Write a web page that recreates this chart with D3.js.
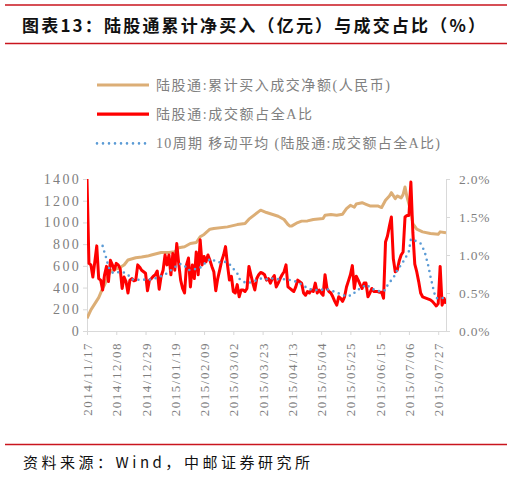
<!DOCTYPE html>
<html>
<head>
<meta charset="utf-8">
<script src="https://cdn.jsdelivr.net/npm/d3@7"></script>
<style>
  body { margin: 0; background: #fff; }
</style>
</head>
<body>
<div id="chart"></div>
<script>
// x axis is a trading-day (weekday) axis starting 2014/11/17
var startDate = "2014/11/17";

var tickLabels = ["2014/11/17", "2014/12/08", "2014/12/29", "2015/01/19", "2015/02/09",
  "2015/03/02", "2015/03/23", "2015/04/13", "2015/05/04", "2015/05/25",
  "2015/06/15", "2015/07/06", "2015/07/27"];

var legendLabels = ["陆股通:累计买入成交净额(人民币)", "陆股通:成交额占全A比",
  "10周期 移动平均 (陆股通:成交额占全A比)"];

// cumulative net buy (亿元), left axis
var buyDates = ["2014/11/17", "2014/11/19", "2014/11/25", "2014/11/27", "2014/11/28", "2014/12/02",
  "2014/12/03", "2014/12/04", "2014/12/09", "2014/12/12", "2014/12/16", "2014/12/22", "2014/12/25",
  "2014/12/30", "2015/01/01", "2015/01/08", "2015/01/14", "2015/01/19", "2015/01/21", "2015/01/26",
  "2015/01/29", "2015/02/03", "2015/02/05", "2015/02/09", "2015/02/12", "2015/02/16", "2015/02/25",
  "2015/03/04", "2015/03/10", "2015/03/12", "2015/03/17", "2015/03/20", "2015/03/25", "2015/03/27",
  "2015/04/02", "2015/04/07", "2015/04/09", "2015/04/10", "2015/04/13", "2015/04/16", "2015/04/20",
  "2015/04/23", "2015/04/28", "2015/05/05", "2015/05/06", "2015/05/11", "2015/05/14", "2015/05/19",
  "2015/05/21", "2015/05/25", "2015/05/27", "2015/05/28", "2015/06/02", "2015/06/04", "2015/06/08",
  "2015/06/12", "2015/06/16", "2015/06/18", "2015/06/22", "2015/06/23", "2015/06/25", "2015/06/26",
  "2015/06/30", "2015/07/01", "2015/07/02", "2015/07/03", "2015/07/07", "2015/07/08", "2015/07/10",
  "2015/07/15", "2015/07/21", "2015/07/27", "2015/07/28", "2015/07/31"];
var buyVals = [117, 195, 307, 393, 424, 516,
  546, 562, 577, 608, 654, 675, 681,
  690, 700, 723, 723, 730, 767, 776,
  806, 815, 868, 889, 938, 944, 959,
  980, 990, 1030, 1072, 1113, 1091, 1080,
  1057, 1027, 981, 966, 968, 999, 1012,
  1014, 1027, 1036, 1067, 1072, 1067, 1076,
  1127, 1158, 1140, 1170, 1182, 1167, 1152,
  1152, 1137, 1204, 1244, 1274, 1219, 1244,
  1226, 1256, 1327, 1235, 1103, 990, 938,
  913, 898, 892, 913, 904];

// share of A-share turnover (%), one value per trading day from startDate, right axis
var shareVals = [
  2.00, 0.89, 0.87, 0.71, 0.91, 1.12, 0.69, 0.67, 0.54, 0.74,
  0.85, 0.65, 0.93, 0.87, 0.80, 0.89, 0.87, 0.82, 0.56, 0.71,
  0.65, 0.50, 0.67, 0.69, 0.66, 0.67, 0.87, 0.84, 0.80, 0.78,
  0.76, 0.53, 0.67, 0.69, 0.72, 0.74, 0.79, 0.55, 0.72, 0.80,
  1.00, 0.87, 1.00, 0.74, 1.02, 0.80, 1.15, 0.89, 0.67, 0.56,
  0.50, 0.87, 0.96, 0.58, 0.87, 0.69, 1.04, 0.74, 1.20, 0.87,
  0.98, 0.91, 1.00, 0.93, 0.85, 0.78, 0.53, 0.69, 0.80, 0.92,
  1.00, 1.11, 0.87, 0.67, 0.72, 0.52, 0.50, 0.61, 0.45, 0.54,
  0.54, 0.52, 0.56, 0.85, 0.74, 0.63, 0.54, 0.69, 0.74, 0.77,
  0.76, 0.74, 0.67, 0.69, 0.63, 0.69, 0.73, 0.58, 0.63, 0.69,
  0.74, 0.78, 0.87, 0.58, 0.56, 0.54, 0.52, 0.58, 0.67, 0.65,
  0.63, 0.50, 0.47, 0.52, 0.50, 0.54, 0.52, 0.63, 0.50, 0.54,
  0.50, 0.47, 0.74, 0.56, 0.52, 0.50, 0.45, 0.39, 0.34, 0.45,
  0.43, 0.39, 0.45, 0.58, 0.66, 0.74, 0.86, 0.56, 0.72, 0.67,
  0.61, 0.56, 0.63, 0.63, 0.45, 0.50, 0.56, 0.52, 0.52, 0.52,
  0.51, 0.51, 0.43, 1.17, 1.25, 1.38, 1.50, 0.95, 0.78, 0.80,
  0.92, 1.00, 1.04, 1.50, 1.52, 1.52, 1.96, 1.30, 0.88, 0.78,
  0.65, 0.50, 0.45, 0.44, 0.43, 0.42, 0.41, 0.39, 0.36, 0.33,
  0.36, 0.85, 0.34, 0.43, 0.36];

// 10-period moving average of the share (%)
var maDates = ["2014/11/27", "2014/11/28", "2014/12/01", "2014/12/02", "2014/12/04", "2014/12/05",
  "2014/12/10", "2014/12/12", "2014/12/16", "2014/12/18", "2014/12/22", "2014/12/25", "2014/12/30",
  "2015/01/01", "2015/01/06", "2015/01/09", "2015/01/13", "2015/01/15", "2015/01/21", "2015/01/23",
  "2015/01/26", "2015/01/28", "2015/01/30", "2015/02/04", "2015/02/06", "2015/02/09", "2015/02/11",
  "2015/02/13", "2015/02/17", "2015/02/20", "2015/02/24", "2015/02/26", "2015/03/02", "2015/03/04",
  "2015/03/05", "2015/03/09", "2015/03/11", "2015/03/13", "2015/03/18", "2015/03/20", "2015/03/25",
  "2015/03/30", "2015/04/03", "2015/04/08", "2015/04/14", "2015/04/17", "2015/04/22", "2015/04/24",
  "2015/04/29", "2015/05/01", "2015/05/07", "2015/05/11", "2015/05/14", "2015/05/18", "2015/05/21",
  "2015/05/26", "2015/05/28", "2015/06/02", "2015/06/04", "2015/06/09", "2015/06/11", "2015/06/16",
  "2015/06/18", "2015/06/19", "2015/06/23", "2015/06/25", "2015/06/26", "2015/06/30", "2015/07/02",
  "2015/07/06", "2015/07/07", "2015/07/10", "2015/07/14", "2015/07/16", "2015/07/20", "2015/07/21",
  "2015/07/22", "2015/07/23", "2015/07/24", "2015/07/28", "2015/07/30"];
var maVals = [1.12, 1.03, 0.95, 0.84, 0.77, 0.76,
  0.78, 0.77, 0.74, 0.68, 0.67, 0.68, 0.67,
  0.68, 0.70, 0.73, 0.76, 0.80, 0.88, 0.88,
  0.86, 0.80, 0.81, 0.82, 0.85, 0.88, 0.93,
  0.95, 0.91, 0.90, 0.91, 0.88, 0.82, 0.76,
  0.69, 0.65, 0.63, 0.64, 0.67, 0.69, 0.68,
  0.69, 0.68, 0.68, 0.66, 0.63, 0.58, 0.55,
  0.54, 0.54, 0.55, 0.53, 0.51, 0.48, 0.46,
  0.47, 0.53, 0.57, 0.61, 0.56, 0.53, 0.52,
  0.54, 0.60, 0.67, 0.74, 0.80, 0.87, 0.95,
  1.05, 1.21, 1.18, 1.15, 1.05, 0.85, 0.72,
  0.61, 0.50, 0.43, 0.44, 0.43];

var width = 520, height = 479;
var plot = { left: 87, right: 446, top: 179, bottom: 331 };

var parse = d3.timeParse("%Y/%m/%d");
var t0 = parse(startDate);
// position of a date on the weekday axis
function dayIndex(s) {
  var n = d3.timeDay.count(t0, parse(s));
  return Math.floor(n / 7) * 5 + (n % 7);
}

var svg = d3.select("#chart").append("svg")
  .attr("width", width)
  .attr("height", height);

//red rules and title
var rule = "#c9151e";
[5, 43.5, 444.5].forEach(function (y) {
  svg.append("line").attr("x1", 5).attr("x2", 507).attr("y1", y).attr("y2", y)
    .attr("stroke", rule).attr("stroke-width", 1.4);
});
svg.append("text")
  .attr("x", 22).attr("y", 32)
  .attr("textLength", 463).attr("lengthAdjust", "spacing")
  .style("font-family", "'Noto Sans CJK SC', sans-serif")
  .style("font-size", "17px").style("font-weight", "bold").style("fill", "#111")
  .text("图表13：陆股通累计净买入（亿元）与成交占比（%）");
svg.append("text")
  .attr("x", 23).attr("y", 468)
  .attr("textLength", 287).attr("lengthAdjust", "spacing")
  .style("font-family", "'Noto Sans CJK SC', sans-serif")
  .style("font-size", "15px").style("fill", "#111")
  .text("资料来源：Wind，中邮证券研究所");

//scales
var x = d3.scaleLinear().domain([0, 184]).range([plot.left, plot.right]);
var yL = d3.scaleLinear().domain([0, 1400]).range([plot.bottom, plot.top]);
var yR = d3.scaleLinear().domain([0, 2]).range([plot.bottom, plot.top]);

var axisColor = "#d9d9d9", labelColor = "#7f7f7f";
var serif = "'Liberation Serif', 'Times New Roman', serif";

function styleAxis(g) {
  g.selectAll("path, line").attr("stroke", axisColor);
  g.selectAll("text").style("fill", labelColor).style("font-family", serif);
}

var gL = svg.append("g").attr("transform", "translate(" + plot.left + ",0)")
  .call(d3.axisLeft(yL).tickValues(d3.range(0, 1401, 200)).tickFormat(d3.format("d"))
    .tickSize(4).tickSizeOuter(0).tickPadding(2));
styleAxis(gL);
gL.selectAll("text").style("font-size", "14px").style("letter-spacing", "2.3px");

var gR = svg.append("g").attr("transform", "translate(" + plot.right + ",0)")
  .call(d3.axisRight(yR).tickValues([0, 0.5, 1, 1.5, 2])
    .tickFormat(function (d) { return d.toFixed(1) + "%"; })
    .tickSize(4).tickSizeOuter(0).tickPadding(9));
styleAxis(gR);
gR.selectAll("text").style("font-size", "13.5px").style("letter-spacing", "0.8px");

var gB = svg.append("g").attr("transform", "translate(0," + plot.bottom + ")")
  .call(d3.axisBottom(x).tickValues(tickLabels.map(dayIndex))
    .tickFormat(function (d, i) { return tickLabels[i]; })
    .tickSize(4).tickSizeOuter(0));
styleAxis(gB);
gB.selectAll("text")
  .attr("transform", "rotate(-90)")
  .attr("x", -11).attr("y", 0).attr("dy", "0.35em")
  .style("text-anchor", "end")
  .style("font-size", "13px").style("letter-spacing", "1.5px");

//lines
svg.append("clipPath").attr("id", "clip").append("rect")
  .attr("x", plot.left).attr("y", plot.top - 2)
  .attr("width", plot.right - plot.left).attr("height", plot.bottom - plot.top + 2);

var tan = "#dcae76", red = "#ff0000", blue = "#5b9bd5";

var buyLine = d3.line()
  .x(function (d, i) { return x(dayIndex(buyDates[i])); })
  .y(function (d) { return yL(d); });
var shareLine = d3.line()
  .x(function (d, i) { return x(i); })
  .y(function (d) { return yR(d); });
var maLine = d3.line()
  .x(function (d, i) { return x(dayIndex(maDates[i])); })
  .y(function (d) { return yR(d); });

var lines = svg.append("g").attr("clip-path", "url(#clip)");
lines.append("path").attr("d", buyLine(buyVals))
  .attr("fill", "none").attr("stroke", tan).attr("stroke-width", 3)
  .attr("stroke-linejoin", "round");
lines.append("path").attr("d", shareLine(shareVals))
  .attr("fill", "none").attr("stroke", red).attr("stroke-width", 3)
  .attr("stroke-linejoin", "round");
lines.append("path").attr("d", maLine(maVals))
  .attr("fill", "none").attr("stroke", blue).attr("stroke-width", 2.6)
  .attr("stroke-linecap", "round").attr("stroke-dasharray", "0 5.8");

//legend
var legend = [
  { label: legendLabels[0], color: tan, dash: null, w: 234 },
  { label: legendLabels[1], color: red, dash: null, w: 156 },
  { label: legendLabels[2], color: blue, dash: "0 6", w: 284 }
];
legend.forEach(function (d, i) {
  var y = 85 + i * 29.2;
  var ln = svg.append("line").attr("x1", 97).attr("x2", 149).attr("y1", y).attr("y2", y)
    .attr("stroke", d.color).attr("stroke-width", d.dash ? 2.6 : 3.2);
  if (d.dash) ln.attr("stroke-dasharray", d.dash).attr("stroke-linecap", "round");
  svg.append("text").attr("x", 156).attr("y", y).attr("dy", "0.36em")
    .attr("textLength", d.w).attr("lengthAdjust", "spacing")
    .style("font-family", "'Liberation Serif', 'Noto Sans CJK SC', serif")
    .style("font-size", "14px").style("fill", "#808080")
    .text(d.label);
});
</script>
</body>
</html>
